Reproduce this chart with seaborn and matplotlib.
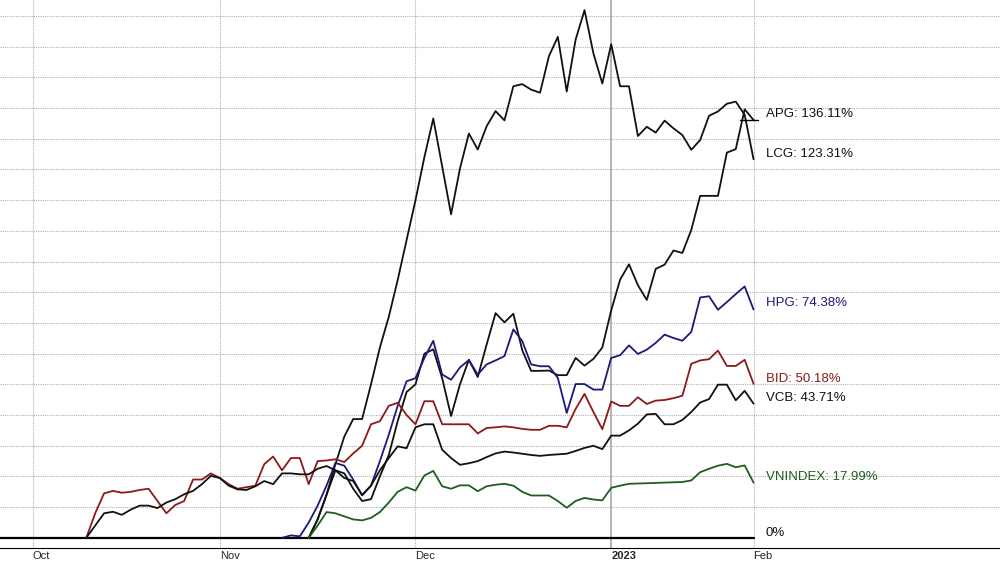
import numpy as np
import pandas as pd
import matplotlib
matplotlib.use("Agg")
import matplotlib.pyplot as plt
import seaborn as sns

# trading-day index: 0 = 3 Oct 2022, 81 = 1 Feb 2023
n_days = 82
tick_pos = [0, 21, 43, 65, 81]
tick_labels = ["Oct", "Nov", "Dec", "2023", "Feb"]

# % change series, each list starts at the given trading-day index
bid_start = 6
bid = [0, 8, 14.5, 15.3, 14.7, 15, 15.6, 16, 12, 8, 10.7, 12, 19, 19, 21, 19.5, 17.5, 16,
       16.5, 17, 24, 26.5, 22, 26, 26, 17.5, 25, 25.2, 25.6, 24.7, 27.5, 30, 37, 38, 43, 44,
       40, 37, 44.5, 44.5, 37, 37, 37, 37, 34, 35.8, 36, 36.3, 36, 35.5, 35.2, 35.2, 36.5,
       36.5, 36, 42, 46.9, 41, 35.4, 44.4, 43, 43, 45.8, 43.6, 44.7, 44.9, 45.5, 46.3, 56.7,
       57.8, 58.2, 61, 56, 56, 58, 50.18]
vcb_start = 6
vcb = [0, 4, 8, 8.5, 7.5, 9.2, 10.5, 10.5, 9.7, 11.5, 12.6, 14.2, 15.3, 17.5, 20.2, 19.5, 17,
       15.8, 15.6, 16.8, 18.5, 17.5, 21, 21, 20.7, 20.7, 22.5, 23.4, 22, 19.5, 18.5, 14, 17,
       22, 26, 29.8, 29.2, 36, 37, 37, 28.7, 26, 23.8, 24.3, 25, 26.3, 27.5, 28.1, 27.8, 27.4,
       27, 26.7, 27, 27.2, 27.4, 28.3, 29.3, 30, 28.9, 33.3, 33.3, 35, 37.2, 40.2, 40.4, 37,
       37, 38.4, 41, 44.1, 45.2, 49.9, 49.9, 44.8, 47.9, 43.71]
hpg_start = 28
hpg = [0, 0.8, 0.5, 5, 10.5, 17, 24.4, 23.5, 19, 13.8, 17, 25, 33.6, 43, 51, 52, 58.6, 64.2,
       53.2, 51.5, 55.5, 57.9, 53.2, 56.5, 57.8, 59.2, 67.9, 64.1, 56.5, 55.9, 55.9, 52.1,
       40.7, 50.1, 50.1, 48.3, 48.3, 58.6, 59.5, 62.7, 59.9, 61.3, 63.5, 66.2, 65.1, 64.2,
       67.1, 78.3, 78.7, 74.3, 76.8, 79.4, 81.9, 74.38]
apg_start = 31
apg = [0, 6, 14, 22, 21, 16, 12, 12.6, 20, 27, 38, 47.5, 50, 60, 61.4, 52, 39.7, 50, 58, 52.4,
       63, 73.2, 70.2, 73, 61.1, 54.4, 54.4, 54.5, 53, 53, 58.6, 56.1, 58.3, 62, 74.1, 84.1,
       89.1, 82.3, 77.5, 87.6, 89, 93.6, 92.8, 100.3, 111.4, 111.4, 111.4, 125.5, 126.6,
       139.6, 136.11]
lcg_start = 31
lcg = [0, 6, 14, 24, 33, 38.7, 38.7, 50, 62, 72, 84, 97, 110, 124, 136.6, 121, 105.4, 120.3,
       131.7, 126.5, 134.1, 139, 136, 147.1, 147.8, 146, 145, 156.9, 163.2, 145.4, 162.3,
       171.9, 157.8, 148, 160.8, 147.1, 147.1, 130.9, 133.9, 132, 135.9, 133.4, 131.2, 126.4,
       129.6, 137.5, 138.9, 141.4, 142.1, 137.8, 123.31]
vni_start = 31
vni = [0, 4, 8.4, 8, 7, 6, 5.7, 6.5, 8.4, 11.5, 15, 16.5, 15.4, 20.3, 21.8, 16.8, 16, 17.1,
       17.1, 15.2, 16.8, 17.3, 17.6, 17, 15, 13.8, 13.8, 13.8, 12, 9.8, 12, 13, 12.5, 12.2,
       16.3, 17, 17.6, 17.7, 17.8, 17.9, 18, 18.1, 18.2, 18.7, 21.4, 22.5, 23.5, 24.1, 23,
       23.6, 17.99]

series = {
    "LCG": (lcg_start, lcg),
    "APG": (apg_start, apg),
    "HPG": (hpg_start, hpg),
    "BID": (bid_start, bid),
    "VCB": (vcb_start, vcb),
    "VNINDEX": (vni_start, vni),
}
colors = {"LCG": "#111111", "APG": "#111111", "HPG": "#1a1a7a", "BID": "#8b1a1a",
          "VCB": "#111111", "VNINDEX": "#1e5e1e"}

rows = []
for name, (start, vals) in series.items():
    for k, v in enumerate(vals):
        rows.append({"day": start + k, "pct": v, "stock": name})
df = pd.DataFrame(rows)

sns.set_style("white")
plt.rcParams['font.family'] = ['Liberation Sans', 'DejaVu Sans']

fig = plt.figure(figsize=(10, 5.61), dpi=100)
ax = fig.add_axes([0, 0.0232, 1, 0.9768])

# grid
for yv in range(10, 180, 10):
    ax.axhline(yv, color="#b0b0b0", lw=0.8, ls=(0, (1, 1)), zorder=0)
for xv in [0, 21, 43, 81]:
    ax.axvline(xv, color="#b0b0b0", lw=0.8, ls=(0, (1, 1)), zorder=0)
ax.axvline(65, color="#a8a8a8", lw=1.2, zorder=0)
ax.plot([-5, 81], [0, 0], color="black", lw=1.6, zorder=1)

sns.lineplot(data=df, x="day", y="pct", hue="stock", palette=colors, lw=1.3,
             legend=False, ax=ax, zorder=2)

# end labels
labels = [("APG: 136.11%", 114, "#111111"), ("LCG: 123.31%", 154, "#111111"),
          ("HPG: 74.38%", 303, "#1a1a7a"), ("BID: 50.18%", 379, "#8b1a1a"),
          ("VCB: 43.71%", 398, "#111111"), ("VNINDEX: 17.99%", 477, "#1e5e1e"),
          ("0%", 533, "#111111")]
for txt, ypix, c in labels:
    ax.text(766 / 1000, 1 - ypix / 548, txt, transform=ax.transAxes, fontsize=9.5,
            color=c, va="center", ha="left")
ax.plot([79.5, 81.5], [136.11, 136.11], color="black", lw=1)

ax.set_xlim(-3.7, 108.7)
ax.set_ylim(-3.3, 175.2)
ax.set_xticks(tick_pos)
ax.set_xticklabels(tick_labels, fontsize=8, ha="left")
for lab in ax.get_xticklabels():
    if lab.get_text() == "2023":
        lab.set_fontweight("bold")
ax.tick_params(axis="x", length=4, pad=0, direction="inout")
ax.set_yticks([])
ax.set_xlabel("")
ax.set_ylabel("")
for s in ["top", "right", "left"]:
    ax.spines[s].set_visible(False)
ax.spines["bottom"].set_color("black")

fig.savefig("out.png", dpi=100)
